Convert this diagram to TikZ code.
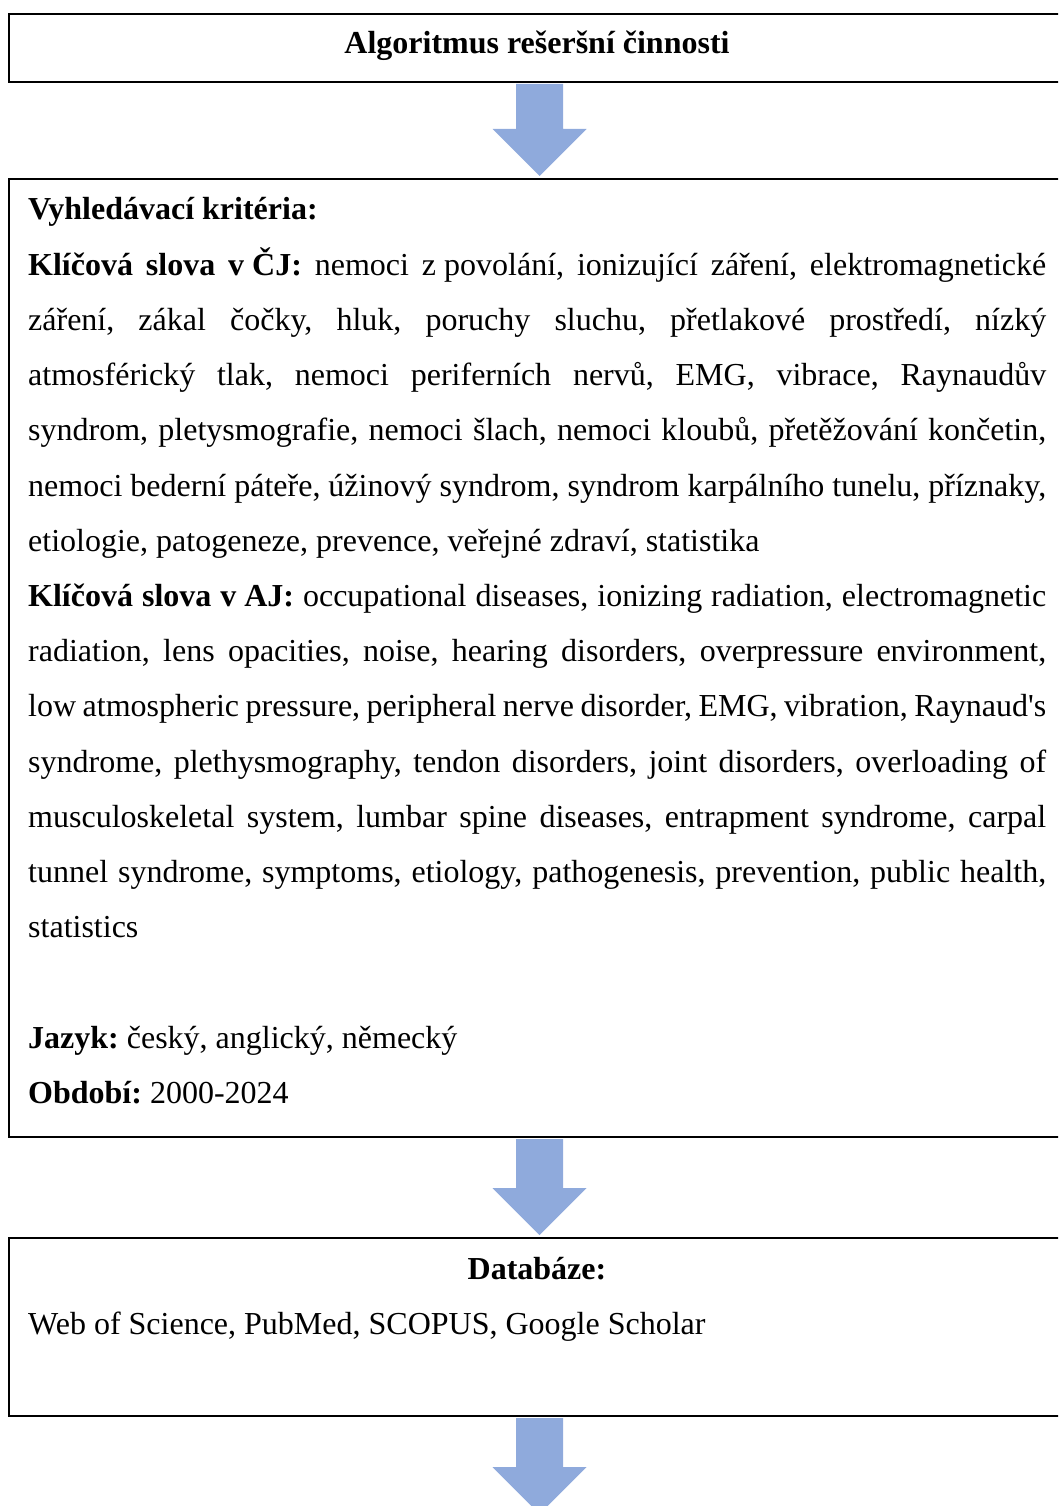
\documentclass[tikz,border=0pt]{standalone}
\usepackage{fontspec}
\setmainfont{Liberation Serif}[Ligatures=TeXOff]
\usetikzlibrary{calc}
\definecolor{arrowblue}{HTML}{8FAADC}
\frenchspacing
\newcommand\myjl[1]{\hbox to\linewidth{#1}}
\newcommand\myll[1]{\hbox to\linewidth{#1\hfil}}
\newcommand\blockarr[2]{%
  \fill[arrowblue] let \p1=(#1), \p2=(#2) in
  (\x1-23.5pt,\y1) -- (\x1+23.5pt,\y1) -- (\x1+23.5pt,\y2+47pt) --
  (\x1+47pt,\y2+47pt) -- (\x2,\y2) -- (\x1-47pt,\y2+47pt) --
  (\x1-23.5pt,\y2+47pt) -- cycle;}
\begin{document}
\begin{tikzpicture}[x=1pt,y=-1pt,
  box/.style={draw, line width=2pt, anchor=north west, inner sep=0pt, minimum width=1054pt},
  txt/.style={inner sep=0pt, font=\fontsize{32pt}{55.2pt}\selectfont\frenchspacing}]
\useasboundingbox (0,0) rectangle (1058,1506);
\clip (0,0) rectangle (1058,1506);
\coordinate (ax) at (539.5,0);
\coordinate (end) at (539.5,1514);
% boxes
\node[box, minimum height=68pt] (b1) at (8,13) {};
\node[box, minimum height=958pt] (b2) at (8,178) {};
\node[box, minimum height=178pt] (b3) at (8,1237) {};
% arrows
\blockarr{$(b1.south -| ax)+(0,1)$}{$(b2.north -| ax)+(0,-2)$}
\blockarr{$(b2.south -| ax)+(0,1)$}{$(b3.north -| ax)+(0,-2)$}
\blockarr{$(b3.south -| ax)+(0,1)$}{end}
% texts
\node[txt, anchor=base, font=\fontsize{32pt}{38pt}\selectfont\bfseries] (t1) at (537,54) {Algoritmus rešeršní činnosti};
\node[txt, anchor=base west] (t2) at (28,220) {\begin{minipage}[t]{1018pt}\fontsize{32pt}{55.2pt}\selectfont\frenchspacing
\myll{\textbf{Vyhledávací kritéria:}}
\myjl{\textbf{Klíčová slova \mbox{v ČJ:}} nemoci \mbox{z povolání,} ionizující záření, elektromagnetické}
\myjl{záření, zákal čočky, hluk, poruchy sluchu, přetlakové prostředí, nízký}
\myjl{atmosférický tlak, nemoci periferních nervů, EMG, vibrace, Raynaudův}
\myjl{syndrom, pletysmografie, nemoci šlach, nemoci kloubů, přetěžování končetin,}
\myjl{nemoci bederní páteře, úžinový syndrom, syndrom karpálního tunelu, příznaky,}
\myll{etiologie, patogeneze, prevence, veřejné zdraví, statistika}
\myjl{\textbf{Klíčová slova \mbox{v AJ:}} occupational diseases, ionizing radiation, electromagnetic}
\myjl{radiation, lens opacities, noise, hearing disorders, overpressure environment,}
\myjl{low atmospheric pressure, peripheral nerve disorder, EMG, vibration, Raynaud's}
\myjl{syndrome, plethysmography, tendon disorders, joint disorders, overloading of}
\myjl{musculoskeletal system, lumbar spine diseases, entrapment syndrome, carpal}
\myjl{tunnel syndrome, symptoms, etiology, pathogenesis, prevention, public health,}
\myll{statistics}
\myll{}
\myll{\textbf{Jazyk:} český, anglický, německý}
\myll{\textbf{Období:} 2000-2024}
\end{minipage}};
\node[txt, anchor=base, font=\fontsize{32pt}{38pt}\selectfont\bfseries] (t3) at (537,1279) {Databáze:};
\node[txt, anchor=base west] (t4) at (28,1334) {Web of Science, PubMed, SCOPUS, Google Scholar};
\end{tikzpicture}
\end{document}
